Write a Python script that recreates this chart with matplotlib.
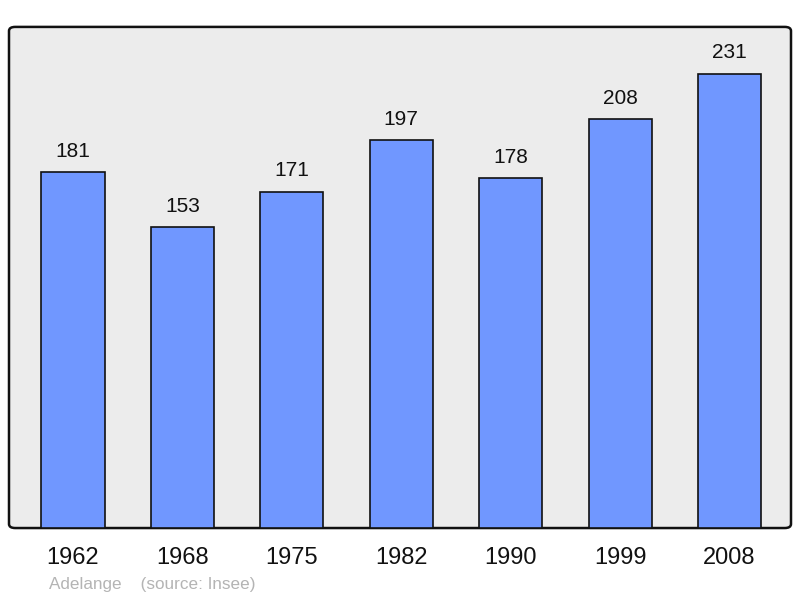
import matplotlib
matplotlib.use("Agg")
import matplotlib.pyplot as plt
from matplotlib.patches import FancyBboxPatch

years = ['1962', '1968', '1975', '1982', '1990', '1999', '2008']
population = [181, 153, 171, 197, 178, 208, 231]

plt.rcParams['font.family'] = ['Liberation Sans', 'DejaVu Sans']

fig = plt.figure(figsize=(8, 5.98), dpi=100)
ax = fig.add_axes([0.01125, 0.117, 0.9775, 0.838])
ax.set_facecolor('none')
ax.set_xlim(-0.585, 6.562)
ax.set_ylim(0, 254.7)

# rounded grey frame
frame = FancyBboxPatch((0, 0), 1, 1, boxstyle="round,pad=0,rounding_size=0.008",
                       transform=ax.transAxes, facecolor='#ececec', edgecolor='#111111',
                       linewidth=1.8, zorder=0, clip_on=False)
ax.add_patch(frame)

x = list(range(len(years)))
ax.bar(x, population, width=0.576, color='#7097ff', edgecolor='#111111', linewidth=1.2, zorder=2)
for xi, v in zip(x, population):
    ax.annotate(str(v), (xi, v), xytext=(0, 8), textcoords='offset points',
                ha='center', va='bottom', fontsize=15, color='#111111')

for s in ax.spines.values():
    s.set_visible(False)
ax.set_xticks(x)
ax.set_xticklabels(years, fontsize=17, color='#111111')
ax.tick_params(axis='x', length=0, pad=14)
ax.set_yticks([])

fig.text(49 / 800, 1 - 584 / 598, 'Adelange    (source: Insee)', fontsize=12.3,
         color='#b4b4b4', ha='left', va='center')

fig.savefig('out.png', dpi=100)
